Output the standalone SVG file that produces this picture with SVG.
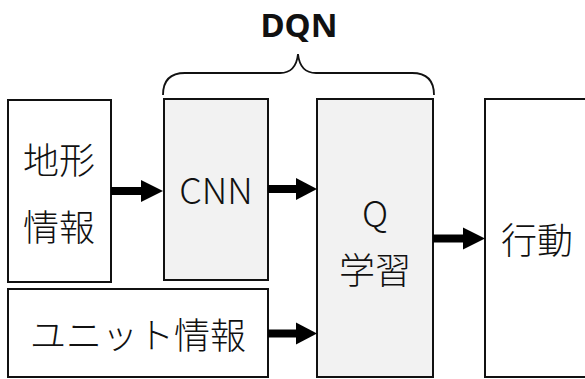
<svg xmlns="http://www.w3.org/2000/svg" width="585" height="379" viewBox="0 0 585 379">
<defs>
<style>
.box{fill:#fff;stroke:#111;stroke-width:2}
.gray{fill:#f2f2f2}
.t{font-family:"Noto Sans CJK JP","Noto Sans",sans-serif;font-weight:300;font-size:36px;fill:#111;text-anchor:middle}
.line{stroke:#000;stroke-width:8;fill:none}
.head{fill:#000}
.brace{fill:none;stroke:#111;stroke-width:1.8}
</style>
</defs>
<rect width="585" height="379" fill="#fff"/>
<g id="dqn-label">
<path class="brace" d="M163,95 Q163,73 185,73 L280,73 Q296,73 298,54 Q300,73 316,73 L412,73 Q434,73 434,95"/>
<text x="299" y="37" style="font-family:'Noto Sans',sans-serif;font-weight:700;font-size:33px;fill:#111;text-anchor:middle">DQN</text>
</g>
<g id="terrain">
<rect class="box" x="8" y="100" width="103" height="182"/>
<text class="t" x="59" y="174">地形</text>
<text class="t" x="59" y="241">情報</text>
</g>
<g id="cnn">
<rect class="box gray" x="164" y="99" width="104" height="181"/>
<text class="t" x="216" y="204">CNN</text>
</g>
<g id="qlearn">
<rect class="box gray" x="317" y="99" width="116" height="278"/>
<text class="t" x="375" y="227">Q</text>
<text class="t" x="375" y="284">学習</text>
</g>
<g id="action">
<rect class="box" x="485" y="99" width="120" height="278"/>
<text class="t" x="537" y="254">行動</text>
</g>
<g id="unit">
<rect class="box" x="8" y="289" width="260" height="88"/>
<text class="t" x="138" y="349">ユニット情報</text>
</g>
<g id="connectors">
<line class="line" x1="111" y1="191" x2="143" y2="191"/>
<polygon class="head" points="141,180 163,191 141,202"/>
<line class="line" x1="268" y1="189" x2="298" y2="189"/>
<polygon class="head" points="296,178 317,189 296,200"/>
<line class="line" x1="433" y1="238.5" x2="465" y2="238.5"/>
<polygon class="head" points="463,227.5 485,238.5 463,249.5"/>
<line class="line" x1="268" y1="333.5" x2="298" y2="333.5"/>
<polygon class="head" points="296,322.5 317,333.5 296,344.5"/>
</g>
</svg>
